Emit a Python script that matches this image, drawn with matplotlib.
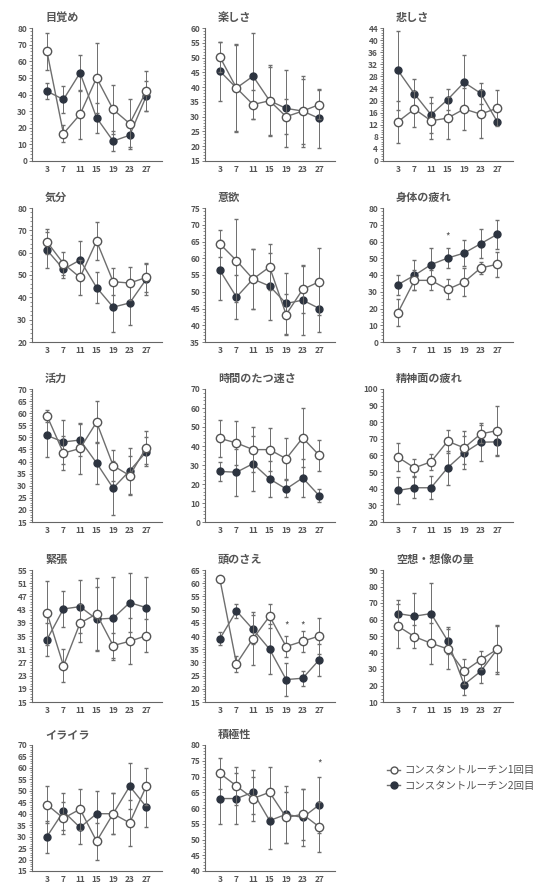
import matplotlib.pyplot as plt
from matplotlib.ticker import AutoMinorLocator
from matplotlib.lines import Line2D
import numpy as np

plt.rcParams['font.family'] = ['Noto Sans CJK JP', 'DejaVu Sans']

days = [3, 7, 11, 15, 19, 23, 27]

# 1回目 = open circles, 2回目 = filled circles
mezame_1 = [66, 16.5, 28, 50, 31, 22.5, 42]
mezame_1_err = [11, 5, 15, 21, 15, 15, 12]
mezame_2 = [42, 37, 53, 26, 12, 15.5, 39]
mezame_2_err = [5, 8, 11, 9, 6, 7, 9]

tanoshisa_1 = [50.2, 39.7, 34.1, 35.4, 30, 31.9, 34.1]
tanoshisa_1_err = [5, 15, 5, 12, 6, 11, 5]
tanoshisa_2 = [45.4, 39.7, 43.7, 35.4, 32.8, 31.9, 29.4]
tanoshisa_2_err = [10, 14.5, 14.5, 11.5, 13, 12, 10]

kanashisa_1 = [13, 17.2, 13.3, 14.2, 17.2, 15.5, 17.5]
kanashisa_1_err = [7, 6, 6, 7, 7, 8, 6]
kanashisa_2 = [30, 22.2, 15.3, 20.3, 26, 22.4, 13]
kanashisa_2_err = [13, 5, 6, 3.5, 9, 3.5, 1]

kibun_1 = [64.9, 55.1, 48.9, 65.2, 47, 46.4, 48.9]
kibun_1_err = [5.5, 5, 8, 8.6, 6, 7.4, 6.4]
kibun_2 = [61.2, 52.6, 56.7, 44.4, 35.6, 37.5, 48.1]
kibun_2_err = [8, 4, 8.5, 7, 11, 10, 7]

iyoku_1 = [64.3, 59.3, 53.8, 57.4, 43.2, 50.7, 53]
iyoku_1_err = [4, 12.5, 9, 7, 6, 7, 10]
iyoku_2 = [56.4, 48.4, 53.8, 51.7, 46.5, 47.5, 45]
iyoku_2_err = [9, 6.5, 9, 10, 9, 10.5, 7]

shintai_1 = [17.5, 36.8, 36.8, 31.4, 35.8, 44.2, 46.4]
shintai_1_err = [8, 6, 6, 6, 8.5, 3.5, 7.5]
shintai_2 = [34.2, 39.8, 46.2, 50.1, 53.1, 58.7, 64.3]
shintai_2_err = [6, 9, 10, 6, 8, 8.5, 8.5]

katsuryoku_1 = [59, 43.5, 45.4, 56.3, 38.3, 34.2, 45.8]
katsuryoku_1_err = [2.5, 7, 10.6, 8.6, 6.5, 8, 7]
katsuryoku_2 = [50.8, 48.1, 48.9, 39.4, 29, 36.2, 44]
katsuryoku_2_err = [9, 9, 6.7, 8.7, 11.3, 9.6, 6]

jikan_1 = [44, 41.6, 38.1, 38.1, 33.3, 44.3, 35.1]
jikan_1_err = [9.7, 11.6, 12, 11.5, 10.7, 15.6, 8]
jikan_2 = [26.6, 26.2, 30.7, 22.7, 17.4, 23.2, 13.8]
jikan_2_err = [5, 12.4, 14.6, 9.4, 4.5, 10, 3.5]

seishin_1 = [59, 52.6, 56.2, 68.6, 64.6, 73, 75]
seishin_1_err = [8.6, 5, 5, 7, 10, 5.6, 15]
seishin_2 = [39, 40.6, 40.6, 52.6, 61.6, 68, 68.2]
seishin_2_err = [8, 6.4, 7, 10.4, 10, 11.4, 8.6]

kincho_1 = [42.1, 26, 38.9, 41.7, 32.1, 33.4, 35.1]
kincho_1_err = [9.7, 5, 5.8, 11, 3.7, 7, 5]
kincho_2 = [33.9, 43.2, 43.9, 40.1, 40.4, 45.1, 43.6]
kincho_2_err = [5, 5.4, 8, 9.7, 12.6, 9, 9.2]

atama_1 = [61.5, 29.5, 39, 47.5, 36, 38, 40]
atama_1_err = [0, 3, 10, 4.5, 4, 4, 7]
atama_2 = [39, 49.5, 42.5, 35, 23.5, 24, 31]
atama_2_err = [2.5, 2.5, 5.5, 9.5, 6.3, 2.8, 6]

kuso_1 = [56, 49.6, 45.6, 42.2, 28.6, 35.6, 42]
kuso_1_err = [13.4, 7, 12.4, 12, 7.4, 5.6, 14.8]
kuso_2 = [63.6, 62, 63.6, 47.2, 20.6, 28.6, 42]
kuso_2_err = [8, 14, 18.4, 8, 6.4, 7, 14]

iraira_1 = [44, 38, 42, 28, 40, 36, 52]
iraira_1_err = [8, 7, 9, 8, 9, 10, 8]
iraira_2 = [30, 41, 34, 40, 40, 52, 43]
iraira_2_err = [7, 8, 7, 10, 9, 10, 9]

sekkyoku_1 = [71, 67, 63, 65, 57, 58, 54]
sekkyoku_1_err = [5, 6, 7, 8, 8, 8, 8]
sekkyoku_2 = [63, 63, 65, 56, 58, 57, 61]
sekkyoku_2_err = [8, 8, 7, 9, 9, 9, 9]

panels = [
    ('目覚め', mezame_1, mezame_1_err, mezame_2, mezame_2_err, 0, 80, 10, []),
    ('楽しさ', tanoshisa_1, tanoshisa_1_err, tanoshisa_2, tanoshisa_2_err, 15, 60, 5, []),
    ('悲しさ', kanashisa_1, kanashisa_1_err, kanashisa_2, kanashisa_2_err, 0, 44, 4, []),
    ('気分', kibun_1, kibun_1_err, kibun_2, kibun_2_err, 20, 80, 10, []),
    ('意欲', iyoku_1, iyoku_1_err, iyoku_2, iyoku_2_err, 35, 75, 5, []),
    ('身体の疲れ', shintai_1, shintai_1_err, shintai_2, shintai_2_err, 0, 80, 10, [(15, 63)]),
    ('活力', katsuryoku_1, katsuryoku_1_err, katsuryoku_2, katsuryoku_2_err, 15, 70, 5, []),
    ('時間のたつ速さ', jikan_1, jikan_1_err, jikan_2, jikan_2_err, 0, 70, 10, []),
    ('精神面の疲れ', seishin_1, seishin_1_err, seishin_2, seishin_2_err, 20, 100, 10, []),
    ('緊張', kincho_1, kincho_1_err, kincho_2, kincho_2_err, 15, 55, 4, []),
    ('頭のさえ', atama_1, atama_1_err, atama_2, atama_2_err, 15, 65, 5, [(19, 44), (23, 44)]),
    ('空想・想像の量', kuso_1, kuso_1_err, kuso_2, kuso_2_err, 10, 90, 10, []),
    ('イライラ', iraira_1, iraira_1_err, iraira_2, iraira_2_err, 15, 70, 5, []),
    ('積極性', sekkyoku_1, sekkyoku_1_err, sekkyoku_2, sekkyoku_2_err, 40, 80, 5, [(27, 74)]),
]

W, H = 552, 889
col_left = [32, 205, 383]
row_top = [28, 208, 389, 570, 745]
row_h = [133, 134, 133, 132, 126]
ax_w = 130

line_c = '#6e6e6e'
dark = '#2d3440'
text_c = '#555555'

fig = plt.figure(figsize=(W / 100, H / 100), dpi=100)

for i, (title, y1, e1, y2, e2, lo, hi, step, stars) in enumerate(panels):
    r, c = divmod(i, 3)
    ax = fig.add_axes([col_left[c] / W, 1 - (row_top[r] + row_h[r]) / H, ax_w / W, row_h[r] / H])
    ax.errorbar(days, y2, yerr=e2, color=line_c, lw=1, elinewidth=0.7, capsize=1.5,
                marker='o', ms=5, mfc=dark, mec=dark, zorder=2)
    ax.errorbar(days, y1, yerr=e1, color=line_c, lw=1, elinewidth=0.7, capsize=1.5,
                marker='o', ms=6, mfc='white', mec='#555555', mew=1, zorder=3)
    for sx, sy in stars:
        ax.text(sx, sy, '*', ha='center', va='center', fontsize=7, color=text_c)
    ax.set_xlim(-0.6, 30.8)
    ax.set_ylim(lo, hi)
    ax.set_xticks(days)
    ax.set_yticks(np.arange(lo, hi + 1, step))
    ax.yaxis.set_minor_locator(AutoMinorLocator(5))
    ax.spines[['top', 'right']].set_visible(False)
    for s in ['left', 'bottom']:
        ax.spines[s].set_color('#666666')
        ax.spines[s].set_linewidth(0.8)
    ax.tick_params(labelsize=6, colors='#666666', labelcolor=text_c, length=2, width=0.6, pad=1.5)
    ax.tick_params(which='minor', length=1.2, width=0.5, colors='#666666')
    ax.tick_params(axis='x', length=0, pad=3)
    for lab in ax.get_xticklabels() + ax.get_yticklabels():
        lab.set_fontweight('bold')
    ax.set_title(title, fontsize=8, fontweight='bold', color=text_c, loc='left',
                 x=0.1, pad=5)

handles = [
    Line2D([], [], color=line_c, lw=1, marker='o', ms=5, mfc='white', mec='#555555'),
    Line2D([], [], color=line_c, lw=1, marker='o', ms=5, mfc=dark, mec=dark),
]
fig.legend(handles, ['コンスタントルーチン1回目', 'コンスタントルーチン2回目'],
           loc='upper left', bbox_to_anchor=(378 / W, 1 - 756 / H), frameon=False,
           fontsize=7.5, labelcolor=text_c, handlelength=1.2, handletextpad=0.4,
           labelspacing=0.5)

fig.savefig('out.png', dpi=100, facecolor='white')
